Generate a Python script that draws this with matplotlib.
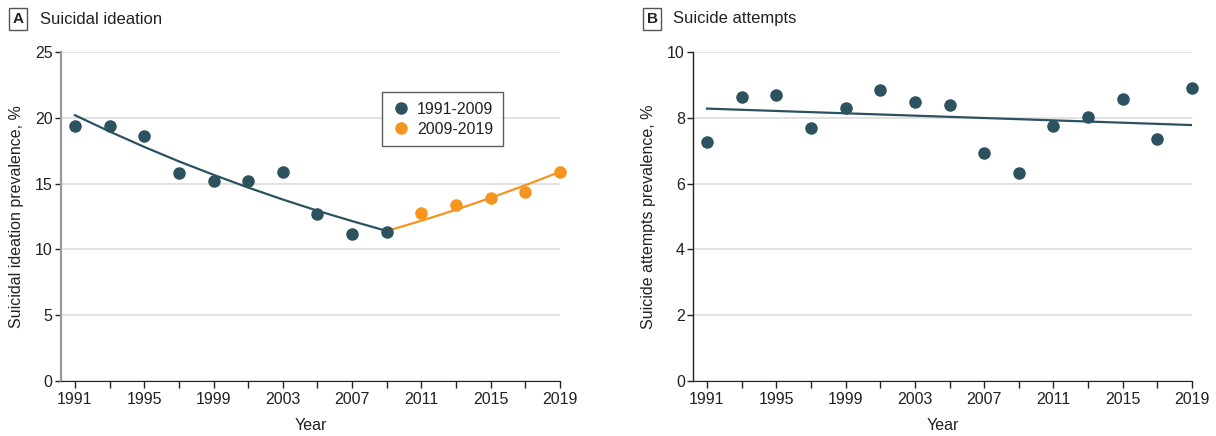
import matplotlib
matplotlib.use('Agg')
import matplotlib.pyplot as plt

plt.rcParams['font.family'] = ['Liberation Sans', 'DejaVu Sans']

# Panel A: suicidal ideation
years_a1 = [1991, 1993, 1995, 1997, 1999, 2001, 2003, 2005, 2007, 2009]
ideation_a1 = [19.4, 19.4, 18.6, 15.8, 15.2, 15.2, 15.9, 12.7, 11.2, 11.3]
fit_a1 = [20.2, 18.96, 17.79, 16.69, 15.67, 14.70, 13.79, 12.94, 12.15, 11.40]

years_a2 = [2011, 2013, 2015, 2017, 2019]
ideation_a2 = [12.8, 13.4, 13.9, 14.4, 15.9]
fit_years_a2 = [2009, 2011, 2013, 2015, 2017, 2019]
fit_a2 = [11.40, 12.18, 13.02, 13.92, 14.88, 15.90]

# Panel B: suicide attempts
years_b = [1991, 1993, 1995, 1997, 1999, 2001, 2003, 2005, 2007, 2009,
           2011, 2013, 2015, 2017, 2019]
attempts_b = [7.27, 8.64, 8.70, 7.70, 8.31, 8.84, 8.47, 8.40, 6.94, 6.31,
              7.76, 8.01, 8.57, 7.37, 8.91]
fit_years_b = [1991, 2019]
fit_b = [8.28, 7.78]

year_ticks = [1991, 1995, 1999, 2003, 2007, 2011, 2015, 2019]
minor_ticks = list(range(1991, 2020, 2))

teal = '#2c525f'
orange = '#f7941d'
text_c = '#222222'
fs = 11.5

fig = plt.figure(figsize=(12.16, 4.36), dpi=100)
ax1 = fig.add_axes([0.0502, 0.1261, 0.4104, 0.7546])
ax2 = fig.add_axes([0.5700, 0.1261, 0.4103, 0.7546])


def style(ax, ymax, ystep, ylabel, spine_color):
    ax.set_xlim(1990.2, 2019)
    ax.set_ylim(0, ymax)
    ax.set_yticks(range(0, ymax + 1, ystep))
    ax.set_xticks(year_ticks)
    ax.set_xticks(minor_ticks, minor=True)
    ax.tick_params(axis='x', which='both', direction='out', length=5, width=1,
                   color=text_c, labelsize=fs, labelcolor=text_c, pad=3)
    ax.tick_params(axis='y', direction='out', length=4, width=1, color=text_c,
                   labelsize=fs, labelcolor=text_c, pad=2)
    for s in ['top', 'right']:
        ax.spines[s].set_visible(False)
    ax.spines['left'].set_color(spine_color)
    ax.spines['left'].set_linewidth(1.6 if spine_color != text_c else 1.0)
    ax.spines['bottom'].set_color(text_c)
    ax.grid(axis='y', color='#dddddd', linewidth=1.2)
    ax.set_axisbelow(True)
    ax.set_xlabel('Year', fontsize=fs, color=text_c, labelpad=8)
    ax.set_ylabel(ylabel, fontsize=fs, color=text_c, labelpad=8)


style(ax1, 25, 5, 'Suicidal ideation prevalence, %', '#9a9a9a')
style(ax2, 10, 2, 'Suicide attempts prevalence, %', text_c)

ax1.plot(years_a1, fit_a1, color=teal, lw=1.6, zorder=2)
ax1.plot(fit_years_a2, fit_a2, color=orange, lw=1.6, zorder=2)
ax1.plot(years_a1, ideation_a1, 'o', color=teal, ms=8, label='1991-2009',
         zorder=3, clip_on=False)
ax1.plot(years_a2, ideation_a2, 'o', color=orange, ms=8, label='2009-2019',
         zorder=3, clip_on=False)
leg = ax1.legend(loc='upper left', bbox_to_anchor=(0.643, 0.878), frameon=True,
                 fancybox=False, edgecolor='#333333', fontsize=fs,
                 handletextpad=0.4, handlelength=1.2, borderpad=0.6,
                 labelspacing=0.3, borderaxespad=0)
leg.get_frame().set_linewidth(1.0)
for t in leg.get_texts():
    t.set_color(text_c)

ax2.plot(fit_years_b, fit_b, color=teal, lw=1.6, zorder=2)
ax2.plot(years_b, attempts_b, 'o', color=teal, ms=8, zorder=3, clip_on=False)

box = dict(boxstyle='square,pad=0.25', facecolor='white', edgecolor='#555555', linewidth=1)
fig.text(18 / 1216, 1 - 19 / 436, 'A', fontsize=11, fontweight='bold', ha='center',
         va='center', color=text_c, bbox=box)
fig.text(40 / 1216, 1 - 19 / 436, 'Suicidal ideation', fontsize=12, ha='left',
         va='center', color=text_c)
fig.text(652 / 1216, 1 - 19 / 436, 'B', fontsize=11, fontweight='bold', ha='center',
         va='center', color=text_c, bbox=box)
fig.text(673 / 1216, 1 - 19 / 436, 'Suicide attempts', fontsize=12, ha='left',
         va='center', color=text_c)

fig.savefig('out.png', dpi=100)
